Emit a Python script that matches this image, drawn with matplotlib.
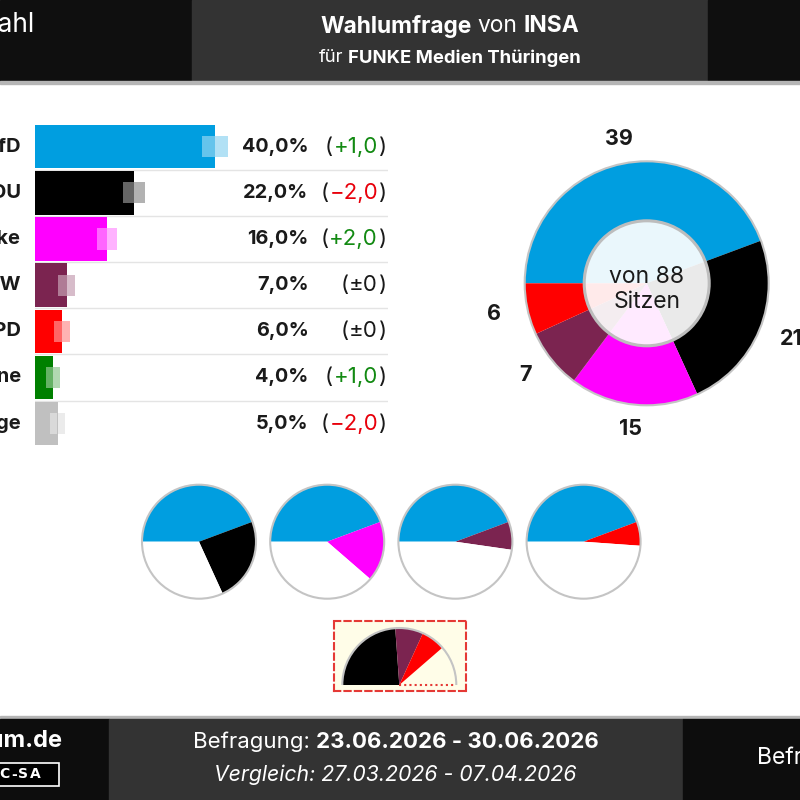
import matplotlib
matplotlib.use("Agg")
import matplotlib.pyplot as plt
from matplotlib.patches import Rectangle, Circle, Arc
from matplotlib.transforms import offset_copy

plt.rcParams['font.family'] = ['Inter', 'DejaVu Sans']

# Umfragewerte
parties = ['AfD', 'CDU', 'Linke', 'BSW', 'SPD', 'Grüne', 'Sonstige']
party_colors = ['#009ee0', '#000000', '#ff00ff', '#7b2450', '#ff0000', '#008000', '#c0c0c0']
values = [40.0, 22.0, 16.0, 7.0, 6.0, 4.0, 5.0]
changes = [1.0, -2.0, 2.0, 0.0, 0.0, 1.0, -2.0]
margins = [2.9, 2.5, 2.3, 1.85, 1.8, 1.6, 1.65]

# Sitzverteilung
seat_parties = ['AfD', 'CDU', 'Linke', 'BSW', 'SPD']
seats = [39, 21, 15, 7, 6]
total_seats = 88
partners = ['CDU', 'Linke', 'BSW', 'SPD']
coalition = ['CDU', 'BSW', 'SPD']

title_parts = [("Wahlumfrage", "bold"), ("von", "normal"), ("INSA", "bold")]
subtitle_parts = [("für", "normal"), ("FUNKE Medien Thüringen", "bold")]
survey_dates = "23.06.2026 - 30.06.2026"
compare_dates = "27.03.2026 - 07.04.2026"
licence = "CC-BY-NC-SA"

col = dict(zip(parties, party_colors))
seat_of = dict(zip(seat_parties, seats))

W, H = 800, 800
fig = plt.figure(figsize=(8, 8), dpi=100)
renderer = fig.canvas.get_renderer()


def px_axes(x0, y0, x1, y1, **kw):
    # axes from pixel box (y from top)
    return fig.add_axes([x0 / W, (H - y1) / H, (x1 - x0) / W, (y1 - y0) / H], **kw)


def put_parts(ax, x, y, parts, ha, size, gap=None):
    # text made of pieces with own weight / colour
    trans = ax.transData
    if gap is None:
        gap = 0.25 * size * fig.dpi / 72
    objs = [ax.text(x, y, s, ha='left', va='center', fontsize=size, **kw) for s, kw in parts]
    ws = [o.get_window_extent(renderer).width for o in objs]
    total = sum(ws) + gap * (len(parts) - 1)
    start = {'left': 0, 'center': -total / 2, 'right': -total}[ha]
    for o, w in zip(objs, ws):
        o.set_transform(offset_copy(trans, fig=fig, x=start, y=0, units='dots'))
        start += w + gap
    return objs


# ---- Hintergrund, Kopf- und Fusszeile
bg = fig.add_axes([0, 0, 1, 1], zorder=0)
bg.set_xlim(0, W)
bg.set_ylim(H, 0)
bg.axis('off')
bg.add_patch(Rectangle((0, 0), 192, 81, color='#0f0f0f'))
bg.add_patch(Rectangle((192, 0), 516, 81, color='#333333'))
bg.add_patch(Rectangle((708, 0), 92, 81, color='#0f0f0f'))
bg.add_patch(Rectangle((0, 81), 800, 2.5, color='#b5b5b5'))
bg.add_patch(Rectangle((0, 716), 800, 2.5, color='#b5b5b5'))
bg.add_patch(Rectangle((0, 718.5), 109, 82, color='#0d0d0d'))
bg.add_patch(Rectangle((109, 718.5), 574, 82, color='#333333'))
bg.add_patch(Rectangle((683, 718.5), 117, 82, color='#0d0d0d'))

bg.text(34.5, 25, "Landtagswahl", color='white', fontsize=19, ha='right', va='center')
put_parts(bg, 450, 26, [(s, dict(color='white', fontweight=w)) for s, w in title_parts],
          'center', 16.4)
put_parts(bg, 450, 58, [(s, dict(color='white', fontweight=w)) for s, w in subtitle_parts],
          'center', 13.3)

bg.text(62, 741, "dawum.de", color='white', fontsize=17, fontweight='bold', ha='right', va='center')
bg.add_patch(Rectangle((-60, 762.5), 119, 23.5, facecolor='black', edgecolor='white', lw=1.2))
put_parts(bg, 40.5, 774.5, [(ch, dict(color='white', fontweight='bold', family='DejaVu Sans'))
                            for ch in licence], 'right', 10, gap=1.4)
put_parts(bg, 396, 742, [("Befragung:", dict(color='white')),
                         (survey_dates, dict(color='white', fontweight='bold'))], 'center', 16)
bg.text(395, 775, "Vergleich: " + compare_dates, color='white', fontsize=15.3,
        style='italic', ha='center', va='center')
bg.text(757, 758, "Befragte: 1.000", color='white', fontsize=16.5, ha='left', va='center')

# ---- Balken
px_per = 4.5
bx0, bx1 = 35, 388
row_h = 46.15
by0 = 146.7 - row_h / 2
ax = px_axes(bx0, by0, bx1, by0 + row_h * len(parties), zorder=1)
ax.set_facecolor('none')
ax.set_xlim(0, (bx1 - bx0) / px_per)
ax.set_ylim(len(parties) - 0.5, -0.5)
ax.axis('off')
ypos = list(range(len(parties)))
ax.barh(ypos, values, height=0.94, color=party_colors, zorder=2)
lo = [v - m for v, m in zip(values, margins)]
ax.barh(ypos, margins, left=lo, height=0.46, color='white', alpha=0.4, zorder=3)
ax.barh(ypos, margins, left=values, height=0.46, color=party_colors, alpha=0.3, zorder=3)
for i in range(len(parties) - 1):
    ax.axhline(i + 0.5, color='#e4e4e4', lw=1, zorder=1)

x_party = (21 - bx0) / px_per
x_val = (308.5 - bx0) / px_per
x_chg = (386.7 - bx0) / px_per
for i, (p, v, c) in enumerate(zip(parties, values, changes)):
    ax.text(x_party, i, p, ha='right', va='center', fontsize=14.5, fontweight='bold',
            color='#1a1a1a', clip_on=False)
    ax.text(x_val, i, f"{v:.1f}%".replace('.', ','), ha='right', va='center',
            fontsize=14.3, fontweight='bold', color='#1a1a1a')
    if c == 0:
        inner, ccol = "±0", '#1a1a1a'
    elif c > 0:
        inner, ccol = "+" + f"{c:.1f}".replace('.', ','), '#138a13'
    else:
        inner, ccol = "\u2212" + f"{-c:.1f}".replace('.', ','), '#e8000b'
    put_parts(ax, x_chg, i, [("(", dict(color='#1a1a1a')),
                             (inner, dict(color=ccol)),
                             (")", dict(color='#1a1a1a'))], 'right', 16, gap=0.5)

# ---- Sitzverteilung (Donut)
cx, cy, r = 646.7, 283.3, 122
half = 165
dax = px_axes(cx - half, cy - half, cx + half, cy + half, zorder=1)
dax.set_facecolor('none')
wedges, texts = dax.pie(seats, colors=[col[p] for p in seat_parties], startangle=180,
                        counterclock=False, radius=1, labels=[str(s) for s in seats],
                        labeldistance=1.0, wedgeprops=dict(linewidth=0),
                        textprops=dict(fontsize=15.5, fontweight='bold', color='#1a1a1a'))
for t in texts:
    lx, ly = t.get_position()
    t.set_position((lx * 1.28, ly * 1.2))
    t.set_ha('center')
    t.set_va('center')
dax.add_patch(Circle((0, 0), 1, fill=False, ec='#c4c4c4', lw=1.5))
dax.add_patch(Circle((0, 0), 62.5 / r, facecolor='white', alpha=0.92, ec='none'))
dax.add_patch(Circle((0, 0), 62.5 / r, fill=False, ec='#bdbdbd', lw=2.2))
dax.text(0, -6 / r, f"von {total_seats}\nSitzen", ha='center', va='center', fontsize=16.5,
         color='#1a1a1a', linespacing=1.15)
dax.set_xlim(-half / r, half / r)
dax.set_ylim(-half / r, half / r)
dax.axis('off')

# ---- kleine Kreise: AfD + Partner
sr = 57
for k, p in enumerate(partners):
    scx, scy = 199 + 128.2 * k, 541.7
    sax = px_axes(scx - 62, scy - 62, scx + 62, scy + 62, zorder=1)
    sax.set_facecolor('none')
    rest = total_seats - seat_of['AfD'] - seat_of[p]
    sax.pie([seat_of['AfD'], seat_of[p], rest], colors=[col['AfD'], col[p], 'white'],
            startangle=180, counterclock=False, radius=1, wedgeprops=dict(linewidth=0))
    sax.add_patch(Circle((0, 0), 1, fill=False, ec='#c4c4c4', lw=1.5))
    sax.set_xlim(-62 / sr, 62 / sr)
    sax.set_ylim(-62 / sr, 62 / sr)
    sax.axis('off')

# ---- Halbkreis Koalition
hcx, hcy, hr = 399.3, 685, 57
hx0, hx1, hy0, hy1 = 334, 465.7, 621, 691
hax = px_axes(hx0, hy0, hx1, hy1, zorder=1)
cvals = [seat_of[p] for p in coalition]
hax.pie(cvals + [total_seats - sum(cvals)], colors=[col[p] for p in coalition] + ['none'],
        startangle=180, counterclock=False, radius=1, wedgeprops=dict(linewidth=0))
hax.add_patch(Arc((0, 0), 2, 2, theta1=0, theta2=180, color='#c4c4c4', lw=1.5))
hax.plot([0, 1], [0, 0], ls=(0, (1, 1.5)), color='#e53935', lw=1.5)
hax.set_frame_on(True)
hax.set_xlim((hx0 - hcx) / hr, (hx1 - hcx) / hr)
hax.set_ylim((hcy - hy1) / hr, (hcy - hy0) / hr)
hax.set_aspect('auto')
hax.set_xticks([])
hax.set_yticks([])
hax.set_facecolor('#fffde8')
for s in hax.spines.values():
    s.set_visible(True)
    s.set_color('#e53935')
    s.set_linestyle((0, (3, 2)))
    s.set_linewidth(1.5)

fig.savefig("out.png", dpi=100)
